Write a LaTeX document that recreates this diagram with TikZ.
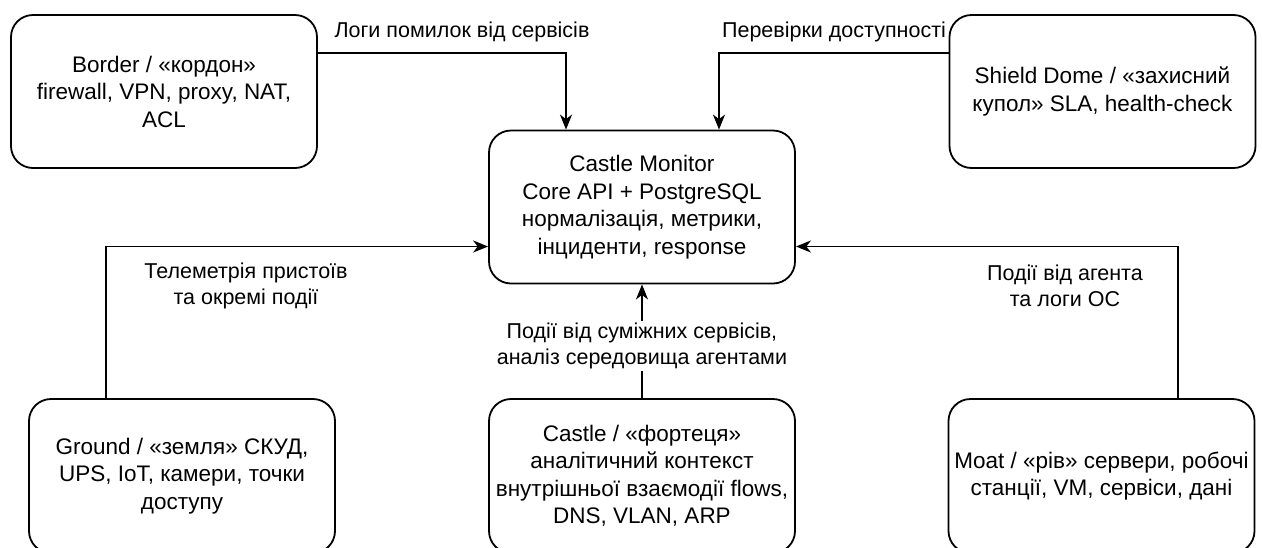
\documentclass[tikz,border=0pt]{standalone}
\usepackage{fontspec}
\setmainfont{Liberation Sans}
\usetikzlibrary{arrows.meta}
\begin{document}
\begin{tikzpicture}[x=1pt,y=-1pt,
  box/.style={draw, line width=1.8pt, rounded corners=22pt, minimum width=306pt, minimum height=153pt, align=center, font=\fontsize{22.5}{27.5}\selectfont, inner sep=0pt},
  lbl/.style={align=center, font=\fontsize{21.5}{26.5}\selectfont, inner sep=2pt},
  arr/.style={line width=1.6pt, -{Stealth[length=15pt,width=12pt,inset=4.5pt]}}]
\useasboundingbox (0,0) rectangle (1262,547);
\node[box] (border) at (164,91.5) {Border / «кордон»\\firewall, VPN, proxy, NAT,\\ACL};
\node[box] (shield) at (1102.5,91.5) {Shield Dome / «захисний\\купол» SLA, health-check};
\node[box, minimum height=153pt] (mon) at (642,207) {Castle Monitor\\Core API + PostgreSQL\\нормалізація, метрики,\\інциденти, response};
\node[box, minimum height=154pt] (ground) at (182,476) {Ground / «земля» СКУД,\\UPS, IoT, камери, точки\\доступу};
\node[box, minimum height=154pt] (castle) at (642,476) {Castle / «фортеця»\\аналітичний контекст\\внутрішньої взаємодії flows,\\DNS, VLAN, ARP};
\node[box, minimum height=154pt] (moat) at (1101.5,476) {Moat / «рів» сервери, робочі\\станції, VM, сервіси, дані};

\draw[arr] ([yshift=38.5pt]border.east) -| ([xshift=-76pt]mon.north);
\draw[arr] ([yshift=38.5pt]shield.west) -| ([xshift=77pt]mon.north);
\draw[arr] ([xshift=-76pt]ground.north) |- ([yshift=-39.5pt]mon.west);
\draw[arr] ([xshift=76.5pt]moat.north) |- ([yshift=-39.5pt]mon.east);
\draw[arr] (castle.north) -- node[lbl, fill=white, pos=0.46] (lmid) {Події від суміжних сервісів,\\аналіз середовища агентами} (mon.south);

\node[lbl] (ltop1) at (462,32) {Логи помилок від сервісів};
\node[lbl] (ltop2) at (834,32) {Перевірки доступності};
\node[lbl] (lleft) at (246,286) {Телеметрія пристоїв\\та окремі події};
\node[lbl] (lright) at (1065,286) {Події від агента\\та логи ОС};
\end{tikzpicture}
\end{document}
